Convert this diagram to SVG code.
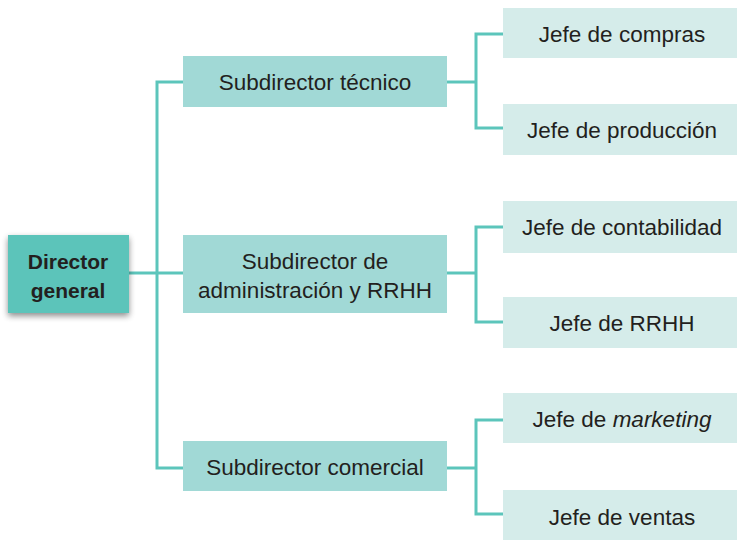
<svg xmlns="http://www.w3.org/2000/svg" width="737" height="540" viewBox="0 0 737 540">
<defs>
<filter id="sh" x="-20%" y="-20%" width="140%" height="150%">
<feGaussianBlur in="SourceAlpha" stdDeviation="3"/>
<feOffset dx="0" dy="3" result="b"/>
<feComponentTransfer><feFuncA type="linear" slope="0.45"/></feComponentTransfer>
<feMerge><feMergeNode/><feMergeNode in="SourceGraphic"/></feMerge>
</filter>
<style>
.t{font-family:"Liberation Sans",Arial,sans-serif;font-size:22.5px;fill:#231f20;text-anchor:middle}
.b{font-weight:bold;font-size:21px}
.l{fill:none;stroke:#5cc5bb;stroke-width:3}
.d{fill:#5bc4ba}
.s{fill:#a1d9d6}
.j{fill:#d5ecea}
</style>
</defs>
<rect width="737" height="540" fill="#ffffff"/>
<g id="connectors">
<polyline class="l" points="183,82 157,82 157,468 183,468"/>
<line class="l" x1="129" y1="273" x2="183" y2="273"/>
<polyline class="l" points="503,34 476,34 476,128 503,128"/>
<line class="l" x1="447" y1="82" x2="476" y2="82"/>
<polyline class="l" points="503,227 476,227 476,322 503,322"/>
<line class="l" x1="447" y1="273" x2="476" y2="273"/>
<polyline class="l" points="503,420 476,420 476,514 503,514"/>
<line class="l" x1="447" y1="468" x2="476" y2="468"/>
</g>
<g id="director">
<rect class="d" x="8" y="235" width="121" height="78" filter="url(#sh)"/>
<text class="t b" x="68" y="269">Director</text>
<text class="t b" x="68" y="298">general</text>
</g>
<g id="sub-tecnico">
<rect class="s" x="183" y="56" width="264" height="51"/>
<text class="t" x="315" y="90">Subdirector técnico</text>
</g>
<g id="sub-admin">
<rect class="s" x="183" y="235" width="264" height="78"/>
<text class="t" x="315" y="269">Subdirector de</text>
<text class="t" x="315" y="298">administración y RRHH</text>
</g>
<g id="sub-comercial">
<rect class="s" x="183" y="441" width="264" height="50"/>
<text class="t" x="315" y="475">Subdirector comercial</text>
</g>
<g id="jefe-compras">
<rect class="j" x="503" y="8" width="234" height="50"/>
<text class="t" x="622" y="42">Jefe de compras</text>
</g>
<g id="jefe-produccion">
<rect class="j" x="503" y="104" width="234" height="51"/>
<text class="t" x="622" y="138">Jefe de producción</text>
</g>
<g id="jefe-contabilidad">
<rect class="j" x="503" y="201" width="234" height="52"/>
<text class="t" x="622" y="235">Jefe de contabilidad</text>
</g>
<g id="jefe-rrhh">
<rect class="j" x="503" y="297" width="234" height="51"/>
<text class="t" x="622" y="331">Jefe de RRHH</text>
</g>
<g id="jefe-marketing">
<rect class="j" x="503" y="393" width="234" height="50"/>
<text class="t" x="622" y="427">Jefe de <tspan font-style="italic">marketing</tspan></text>
</g>
<g id="jefe-ventas">
<rect class="j" x="503" y="490" width="234" height="50"/>
<text class="t" x="622" y="525">Jefe de ventas</text>
</g>
</svg>
